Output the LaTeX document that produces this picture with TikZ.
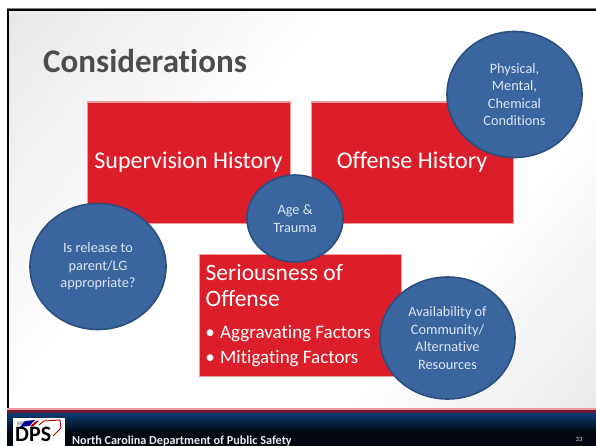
\documentclass[tikz,border=0pt]{standalone}
\usepackage{fontspec}
\setmainfont[Ligatures=CommonOff]{Carlito}
\usetikzlibrary{shapes.geometric,calc}
\definecolor{redbox}{HTML}{DC1E2A}
\definecolor{redline}{HTML}{F09AA0}
\definecolor{bluefill}{HTML}{3A659E}
\definecolor{blueline}{HTML}{2A4F7E}
\definecolor{bluetext}{HTML}{DCE6F4}
\definecolor{bgedge}{HTML}{DADADA}
\definecolor{darkred}{HTML}{6E1A30}
\definecolor{navy}{HTML}{0B3C74}
\definecolor{nearblack}{HTML}{03070F}
\pgfdeclareverticalshading{slidebg}{100bp}{color(0bp)=(bgedge); color(34bp)=(white); color(60bp)=(white); color(100bp)=(bgedge)}
\tikzset{
  redcard/.style={draw=redline,line width=1.2pt,fill=redbox,text=white,inner sep=0pt,anchor=north west},
  bubble/.style={ellipse,draw=blueline,line width=1.6pt,fill=bluefill,text=bluetext,inner sep=0pt,align=center,font=\fontsize{14.3}{17.5}\selectfont},
  cardtitle/.style={text=white,inner sep=0pt,anchor=base,font=\fontsize{24}{28}\selectfont},
  bigtext/.style={text=white,font=\fontsize{23.5}{28}\selectfont,anchor=base west,inner sep=0pt},
  subtext/.style={text=white,font=\fontsize{19}{22}\selectfont,anchor=base west,inner sep=0pt}
}
\begin{document}
\begin{tikzpicture}[x=1pt,y=-1pt]
\useasboundingbox (0,0) rectangle (596,446);
\fill[white] (0,0) rectangle (596,446);
% slide background
\shade[shading=slidebg,shading angle=50] (8,9) rectangle (596,409);
\draw[black,line width=2pt] (8,409) -- (8,10) -- (596,10);
\draw[gray,line width=.6pt] (7,8.5) -- (596,8.5);
% footer
\fill[redline] (7,408) rectangle (596,410);
\fill[darkred] (7,410) rectangle (596,413);
\shade[top color=navy,bottom color=nearblack] (7,413) rectangle (596,432);
\fill[nearblack] (7,432) rectangle (596,446);
% logo
\fill[white] (13,417.5) rectangle (65,446);
\fill[gray!55] (17,422) -- (24,421) -- (24,424) -- (17,425.5) -- cycle;
\fill[blue!60!black] (25,421) -- (35,420) -- (29,426) -- (20,427) -- cycle;
\fill[red!75!black] (30,426) -- (37,420.5) -- (39,420.5) -- (33,426.5) -- cycle;
\draw[red!70!black,line width=.9pt] (39,425) -- (44,421) -- (60,420) -- (61,428) -- (53,436);
\node[inner sep=0pt,anchor=base west,font=\fontsize{22}{22}\bfseries\selectfont,text=black] (dps) at (15,441) {DPS};
\node[inner sep=0pt,anchor=base west,font=\fontsize{12.2}{14}\bfseries\selectfont,text=white!85!gray] (org) at (72,444) {North Carolina Department of Public Safety};
\node[inner sep=0pt,anchor=base,font=\fontsize{6.5}{8}\selectfont,text=white!80!gray] (num) at (579,441) {33};
% title
\node[inner sep=0pt,anchor=base west,font=\fontsize{33}{36}\bfseries\selectfont,text=black!70] (title) at (43,73) {Considerations};
% red cards
\node[redcard,minimum width=203pt,minimum height=121pt] (sup) at (87,101.5) {};
\node[cardtitle] (suptext) at (188.5,169) {Supervision History};
\node[redcard,minimum width=202pt,minimum height=121pt] (off) at (311,101.5) {};
\node[cardtitle] (offtext) at (412,169) {Offense History};
\node[redcard,minimum width=202pt,minimum height=122pt] (ser) at (199,253.5) {};
\node[bigtext] (s1) at (205.5,280) {Seriousness of};
\node[bigtext] (s2) at (205.5,306) {Offense};
\node[subtext,anchor=base] (b1) at (210,338) {•};
\node[subtext] (a1) at (220,338) {Aggravating Factors};
\node[subtext,anchor=base] (b2) at (210,363) {•};
\node[subtext] (a2) at (220,363) {Mitigating Factors};
% bubbles
\node[bubble,minimum width=135pt,minimum height=126pt] (phys) at (514.5,94.5) {Physical,\\Mental,\\Chemical\\Conditions};
\node[bubble,minimum width=136pt,minimum height=126pt] (rel) at (98,266.5) {Is release to\\parent/LG\\appropriate?};
\node[bubble,minimum width=96pt,minimum height=87pt] (age) at (295,218.5) {Age \&\\Trauma};
\node[bubble,minimum width=135pt,minimum height=122pt] (avail) at (447.5,338) {Availability of\\Community/\\Alternative\\Resources};
\end{tikzpicture}
\end{document}
